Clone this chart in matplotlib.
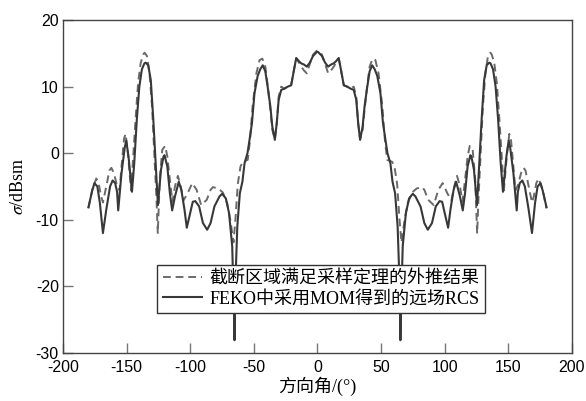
import numpy as np
import matplotlib
matplotlib.use("Agg")
import matplotlib.pyplot as plt

plt.rcParams['mathtext.fontset'] = 'stix'
plt.rcParams['axes.unicode_minus'] = False

# negative half of the pattern (symmetric about 0 deg), angle in deg, RCS in dBsm
ang_solid = [-180, -177, -175.3, -173, -171, -168.6, -166, -163, -161, -159, -157.5, -156.6,
             -154, -151.5, -150.3, -148.5, -145.8, -144, -142, -140, -138, -136, -135, -133,
             -131, -129, -127, -125.4, -123, -121, -120.2, -118, -116, -114.2, -112, -109,
             -107, -104.5, -102.7, -100, -98, -96, -93, -90, -86.7, -84, -81, -77, -74.9,
             -72, -69.5, -67, -65.6, -65.2, -64.6, -63, -61, -59, -57.3, -55, -53.4, -51.5,
             -49.5, -47, -45, -43, -41, -39, -37, -35.5, -33.5, -32, -30.5, -28.5, -26,
             -23.3, -20.7, -18.5, -16.7, -14.5, -12.8, -10.5, -8.4, -6, -3.5, -0.5, 0]
db_solid = [-8.1, -5.6, -4.5, -5.0, -7.5, -12.0, -8.5, -5.0, -4.1, -4.5, -5.8, -8.6,
            -3.0, 0.8, 1.9, -0.5, -5.8, -1.5, 5.0, 10.0, 12.6, 13.5, 13.6, 13.2,
            11.0, 5.0, -2.0, -7.8, -2.5, -0.5, -0.3, -2.0, -6.0, -8.6, -6.5, -4.3,
            -5.5, -8.5, -11.2, -9.0, -7.3, -7.2, -8.0, -10.5, -11.5, -10.5, -8.0, -6.5, -6.1,
            -6.8, -9.0, -14.0, -24.0, -28.1, -20.0, -11.0, -6.0, -4.3, -1.5, 0.0, 2.0, 4.5,
            9.0, 11.6, 12.6, 13.2, 12.3, 9.8, 7.0, 4.0, 2.0, 4.5, 8.0, 9.5, 9.7,
            10.0, 10.2, 12.5, 14.3, 13.8, 13.5, 13.3, 13.0, 13.6, 14.6, 15.2, 15.2]

ang_dash = [-180, -177, -173.8, -172, -170, -168.6, -166, -163.5, -162, -160, -157.6, -155.5,
            -154, -152, -150.8, -149, -146.5, -145, -143, -141, -139, -137, -135.9, -134,
            -132, -130, -128, -126.5, -125.5, -124, -122, -119.7, -118, -116, -114, -112,
            -109.7, -107.5, -105.3, -102, -98.4, -95, -91.4, -87, -84, -82.2, -78, -74.4,
            -71, -68.5, -66, -64.5, -62.6, -60.5, -58.7, -54.8, -53, -51, -48, -45.5, -43.3,
            -41, -39, -37, -35.5, -33.5, -32, -30.5, -28.5, -26, -23.3, -20.7, -18.5, -16.7,
            -14.5, -12.8, -10.5, -8.4, -6, -3.5, -0.5, 0]
db_dash = [-8.3, -5.5, -3.8, -4.5, -6.5, -7.4, -5.0, -2.6, -2.2, -3.0, -4.8, -5.6,
           -2.0, 2.2, 2.9, 0.0, -5.6, -1.0, 5.0, 10.5, 13.5, 14.8, 15.1, 14.6,
           12.0, 7.0, -1.0, -7.0, -12.1, -4.0, 0.5, 1.1, -0.5, -4.0, -7.3, -5.0,
           -3.4, -5.0, -7.1, -6.0, -4.5, -5.5, -7.8, -7.0, -5.5, -5.1, -5.3, -5.9,
           -7.5, -10.0, -13.4, -10.0, -4.6, -2.0, -1.3, -1.0, 2.0, 7.0, 12.0, 14.0, 14.2,
           13.0, 10.0, 6.5, 3.5, 2.1, 4.5, 8.5, 10.0, 9.7, 10.0, 10.2, 12.5, 14.2,
           13.6, 13.0, 12.4, 12.0, 13.4, 14.8, 15.4, 15.4]

xticks = [-200, -150, -100, -50, 0, 50, 100, 150, 200]
yticks = [-30, -20, -10, 0, 10, 20]

label_dash = '截断区域满足采样定理的外推结果'
label_solid = 'FEKO中采用MOM得到的远场RCS'

# mirror the half pattern to get the full curve
xs = np.array(ang_solid[:-1] + [-a for a in ang_solid[::-1]])
ys = np.array(db_solid[:-1] + db_solid[::-1])
xd = np.array(ang_dash[:-1] + [-a for a in ang_dash[::-1]])
yd = np.array(db_dash[:-1] + db_dash[::-1])

fig = plt.figure(figsize=(5.86, 4.01), dpi=100)
ax = fig.add_axes([0.1075, 0.12, 0.8685, 0.83])

ax.plot(xd, yd, '--', color='#6a6a6a', lw=1.4, dashes=(4, 2.5), label=label_dash)
ax.plot(xs, ys, '-', color='#383838', lw=1.5, label=label_solid)

ax.set_xlim(-200, 200)
ax.set_ylim(-30, 20)
ax.set_xticks(xticks)
ax.set_yticks(yticks)
ax.tick_params(direction='in', length=7, width=1, color='#777777',
               top=False, right=False, labelsize=11.5, pad=3)
ax.tick_params(axis='x', pad=5)
for lab in ax.get_xticklabels() + ax.get_yticklabels():
    lab.set_fontfamily('Liberation Sans')
for sp in ax.spines.values():
    sp.set_color('#444444')
    sp.set_linewidth(1.0)

ax.set_xlabel('方向角/(°)', fontsize=13, family=['Liberation Serif', 'Noto Sans CJK SC'], labelpad=1)
ax.set_ylabel('$\\sigma$/dBsm', fontsize=13, family='Liberation Serif', labelpad=6)

leg = ax.legend(loc='lower left', bbox_to_anchor=(0.185, 0.12), borderaxespad=0,
                fancybox=False, framealpha=1, edgecolor='#333333', handlelength=2.2,
                handletextpad=0.4, borderpad=0.3, labelspacing=0.15,
                prop={'family': ['Liberation Serif', 'Noto Sans CJK SC'], 'size': 13})
leg.get_frame().set_linewidth(1.0)

fig.savefig('out.png', dpi=100)
